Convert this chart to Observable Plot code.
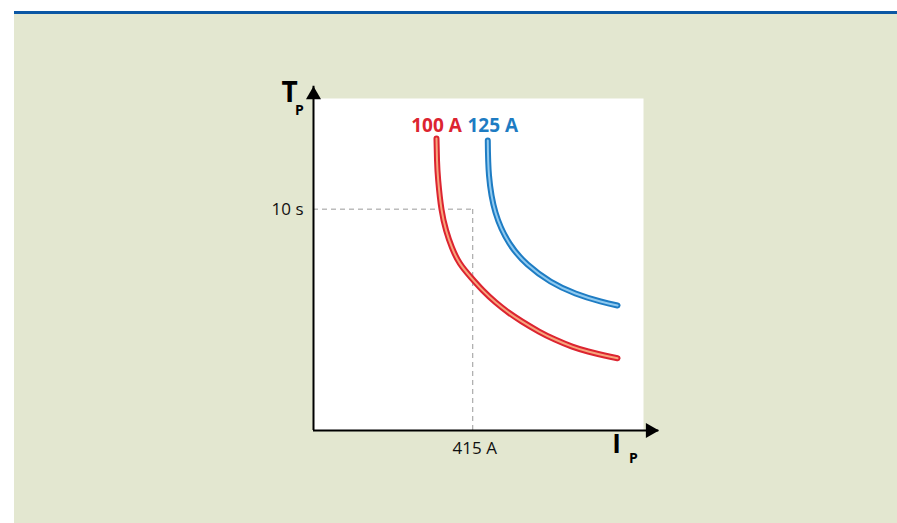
<!DOCTYPE html>
<html>
<head>
<meta charset="utf-8">
<script src="https://cdn.jsdelivr.net/npm/d3@7"></script>
<script src="https://cdn.jsdelivr.net/npm/@observablehq/plot@0.6"></script>
<style>
  html, body { margin: 0; padding: 0; background: #ffffff; overflow: hidden; }
  #page { position: relative; width: 897px; height: 523px; background: #ffffff; }
  #bar { position: absolute; left: 14px; top: 11px; width: 883px; height: 3px; background: #0b57a4; }
  #panel { position: absolute; left: 14px; top: 14px; width: 883px; height: 509px; background: #e3e7d0; }
  #chart { position: absolute; left: 0; top: 0; }
</style>
</head>
<body>
<div id="page">
  <div id="bar"></div>
  <div id="panel"></div>
  <div id="chart"></div>
</div>
<script>
// ---- data (current in A, trip time in s) ----
const seriesNames = ["100 A", "125 A"];
const redI  = [320.5, 321.9, 325.0, 333.6, 345.6, 360.7, 381.5, 410.7, 441.2, 475.1, 508.2, 542.8, 587.7, 629.4, 674.2, 715.9, 758.6, 792.3];
const redT  = [13.19, 12.2, 11.3, 9.99, 9.04, 8.27, 7.55, 6.91, 6.33, 5.78, 5.33, 4.93, 4.47, 4.11, 3.79, 3.57, 3.39, 3.265];
const blueI = [454.2, 457.4, 474.3, 510.8, 557.7, 617.6, 682.8, 747.9, 792.3];
const blueT = [13.1, 11.52, 9.85, 8.45, 7.5, 6.73, 6.19, 5.83, 5.65];
const xTicks = [415];
const yTicks = [10];
const xTickLabels = ["415 A"];
const yTickLabels = ["10 s"];
const xDomain = [0, 860];
const yDomain = [0, 15];
const xAxisEnd = 900;
const yAxisEnd = 15.55;

const red = redI.map((x, i) => ({x, y: redT[i], s: seriesNames[0]}));
const blue = blueI.map((x, i) => ({x, y: blueT[i], s: seriesNames[1]}));

const font = "'Open Sans', 'Noto Sans', sans-serif";
const redC = "#dc2430", redHi = "#f7a57c";
const blueC = "#1e7cc3", blueHi = "#8fcaf0";

const chart = Plot.plot({
  width: 897,
  height: 523,
  marginLeft: 313,
  marginRight: 254,
  marginTop: 98,
  marginBottom: 93,
  style: {background: "transparent", overflow: "visible", fontFamily: font},
  x: {domain: xDomain, axis: null},
  y: {domain: yDomain, axis: null},
  marks: [
    Plot.frame({fill: "white", stroke: "none"}),
    // dashed guides
    Plot.ruleY(yTicks, {x1: 0, x2: xTicks[0], stroke: "#999", strokeWidth: 1, strokeDasharray: "5,4"}),
    Plot.ruleX(xTicks, {y1: 0, y2: yTicks[0], stroke: "#999", strokeWidth: 1, strokeDasharray: "5,4"}),
    // curves: outer + highlight
    Plot.line(red, {x: "x", y: "y", curve: "natural", stroke: redC, strokeWidth: 6, strokeLinecap: "round"}),
    Plot.line(red, {x: "x", y: "y", curve: "natural", stroke: redHi, strokeWidth: 2, strokeLinecap: "round"}),
    Plot.line(blue, {x: "x", y: "y", curve: "natural", stroke: blueC, strokeWidth: 6, strokeLinecap: "round"}),
    Plot.line(blue, {x: "x", y: "y", curve: "natural", stroke: blueHi, strokeWidth: 2, strokeLinecap: "round"}),
    // axes
    Plot.ruleY([0], {x1: 0, x2: xAxisEnd, stroke: "black", strokeWidth: 2}),
    Plot.ruleX([0], {y1: 0, y2: yAxisEnd, stroke: "black", strokeWidth: 2}),
    Plot.dot([0], {x: 0, y: yAxisEnd, symbol: "triangle", r: 5.6, fill: "black", stroke: "none", dy: 8.6}),
    Plot.dot([0], {x: xAxisEnd, y: 0, symbol: "triangle", r: 5.6, fill: "black", stroke: "none", rotate: 90, dx: -8.6}),
    // tick labels
    Plot.text(yTicks, {x: 0, y: d => d, text: (d, i) => yTickLabels[i], textAnchor: "end", dx: -10, fontSize: 17, fill: "#111"}),
    Plot.text(xTicks, {x: d => d, y: 0, text: (d, i) => xTickLabels[i], dx: 2, dy: 18, fontSize: 17, fill: "#111"}),
    // axis titles
    Plot.text(["T"], {x: 0, y: yDomain[1], dx: -24, dy: -5, fontSize: 28, fontWeight: "bold", fill: "black"}),
    Plot.text(["P"], {x: 0, y: yDomain[1], dx: -14, dy: 12, fontSize: 14, fontWeight: "bold", fill: "black"}),
    Plot.text(["I"], {x: xDomain[1], y: 0, dx: -27, dy: 14, fontSize: 26, fontWeight: "bold", fill: "black"}),
    Plot.text(["P"], {x: xDomain[1], y: 0, dx: -10, dy: 28, fontSize: 14, fontWeight: "bold", fill: "black"}),
    // series labels
    Plot.text([red[0]], {x: "x", y: "y", text: "s", dy: -13, fontSize: 19, fontWeight: "bold", fill: redC}),
    Plot.text([blue[0]], {x: "x", y: "y", text: "s", dx: 5, dy: -15, fontSize: 19, fontWeight: "bold", fill: blueC})
  ]
});
document.getElementById("chart").appendChild(chart);
</script>
</body>
</html>
